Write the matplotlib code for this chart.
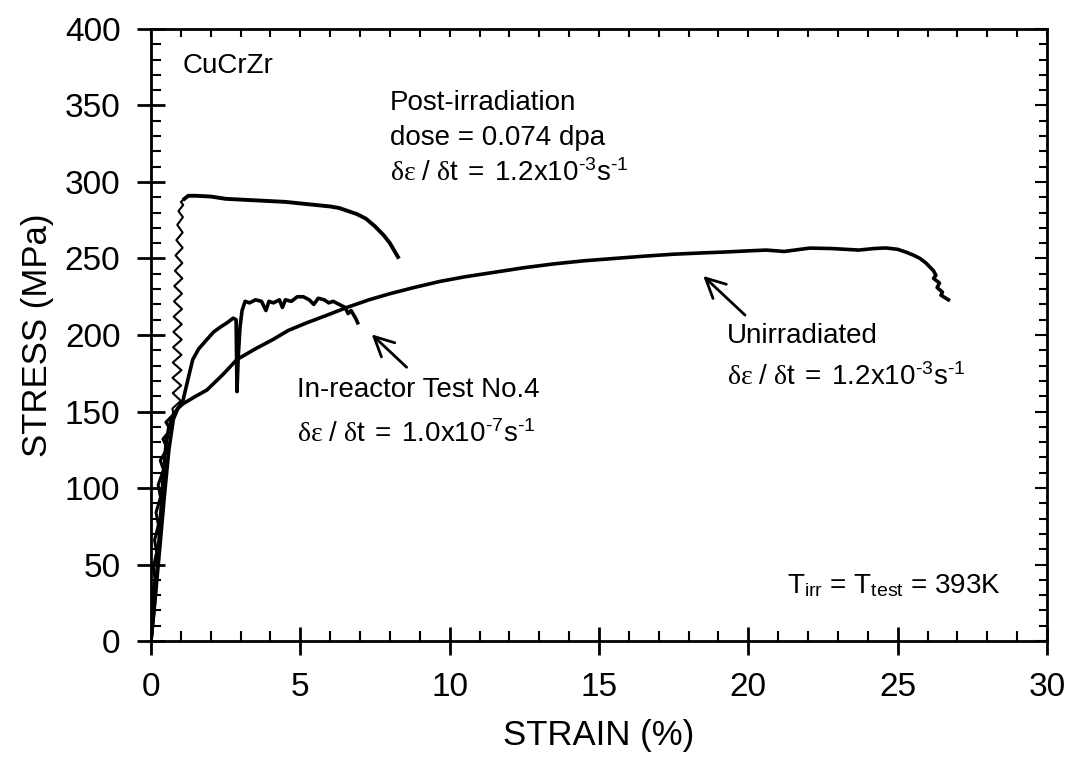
import numpy as np
import matplotlib
matplotlib.use("Agg")
import matplotlib.pyplot as plt
from matplotlib.ticker import MultipleLocator

# strain (%) / stress (MPa)
post_strain = [0.0, 0.05, 0.02, 0.09, 0.04, 0.14, 0.08, 0.19, 0.12, 0.25, 0.17, 0.32, 0.24, 0.42,
               0.31, 0.55, 0.40, 0.66, 0.50, 0.75,
               0.72, 1.00, 0.73, 1.01, 0.72, 1.02, 0.73, 1.02, 0.74, 1.03, 0.75, 1.03, 0.76, 1.04,
               0.77, 1.04, 0.78, 1.05, 0.80, 1.05, 0.82, 1.06, 0.85, 1.06, 0.88, 1.07, 0.92, 1.08,
               1.00, 1.12, 1.25, 1.5, 2.0, 2.5, 3.0, 3.5, 4.0, 4.5, 5.0, 5.5, 6.0, 6.3, 6.6, 6.9,
               7.2, 7.5, 7.8, 8.0, 8.15, 8.27]
post_stress = [0, 8, 14, 22, 30, 40, 48, 58, 66, 76, 84, 94, 102, 112,
               118, 126, 132, 138, 143, 148,
               152, 157, 162, 167, 172, 177, 182, 187, 192, 197, 202, 207, 212, 217,
               222, 227, 232, 237, 242, 247, 252, 257, 262, 267, 272, 277, 281, 285,
               287, 289, 291, 291, 290.5, 289, 288.5, 288, 287.5, 287, 286, 285, 284, 283, 281, 279,
               276, 271, 265, 260, 255, 251]
post_wiggle = (19, 49)  # index range of the thin oscillating part

unirr_strain = [0.0, 0.1, 0.2, 0.3, 0.4, 0.5, 0.6, 0.75, 0.9, 1.07, 1.5, 1.87, 2.4, 2.88, 3.5,
                4.08, 4.6, 5.22, 5.9, 6.56, 7.3, 8.0, 8.8, 9.67, 10.5, 11.5, 12.5, 13.5, 14.5,
                15.5, 16.5, 17.5, 18.4, 19.3, 20.0, 20.6, 21.2, 22.06, 22.8, 23.7, 24.2, 24.6,
                25.0, 25.3, 25.55, 25.75, 25.95, 26.05, 26.2, 26.28, 26.2, 26.4, 26.32, 26.5,
                26.45, 26.7]
unirr_stress = [0, 20, 45, 75, 105, 128, 140, 148, 152, 155, 160, 164, 174, 184, 191,
                197, 203, 208, 213, 218, 223, 227, 231, 235, 238, 241, 244, 246.5, 248.5,
                250, 251.5, 252.8, 253.6, 254.3, 255, 255.5, 254.6, 256.8, 256.5, 255.5, 256.5, 256.9,
                256, 254, 252, 250, 247, 245, 242, 239, 237, 234, 231, 228,
                226, 223]

inr_strain = [0.0, 0.15, 0.3, 0.45, 0.6, 0.75, 0.9, 1.07, 1.25, 1.4, 1.6, 1.87, 2.1, 2.31, 2.55,
              2.75, 2.85, 2.88, 2.92, 2.98, 3.05, 3.15, 3.3, 3.5, 3.7, 3.85, 3.95, 4.1, 4.3, 4.4,
              4.5, 4.7, 4.9, 5.1, 5.3, 5.45, 5.6, 5.8, 5.95, 6.1, 6.3, 6.5, 6.6, 6.7, 6.85, 6.92]
inr_stress = [0, 30, 62, 95, 125, 145, 152, 157, 172, 184, 191, 197, 202, 205, 208,
              211, 210, 163, 185, 205, 216, 222, 221, 223, 222, 216, 222, 221, 223, 218,
              223, 222, 225, 225, 223, 220, 224, 223, 221, 222, 220, 218, 214, 216, 211, 208]

plt.rcParams['font.family'] = ['Liberation Sans', 'DejaVu Sans']
plt.rcParams['mathtext.fontset'] = 'custom'
plt.rcParams['mathtext.rm'] = 'Liberation Sans'
plt.rcParams['mathtext.it'] = 'Liberation Serif'
plt.rcParams['mathtext.bf'] = 'Liberation Sans:bold'

fig = plt.figure(figsize=(10.7, 7.71), dpi=100)
ax = fig.add_axes([0.1411, 0.1686, 0.8374, 0.7938])

a, b = post_wiggle
ax.plot(post_strain[:a + 1], post_stress[:a + 1], color='black', lw=2.2)
ax.plot(post_strain[a:b + 1], post_stress[a:b + 1], color='black', lw=1.5)
ax.plot(post_strain[b:], post_stress[b:], color='black', lw=2.8)
ax.plot(unirr_strain, unirr_stress, color='black', lw=2.6)
ax.plot(inr_strain, inr_stress, color='black', lw=2.6)

ax.set_xlim(0, 30)
ax.set_ylim(0, 400)
ax.xaxis.set_major_locator(MultipleLocator(5))
ax.xaxis.set_minor_locator(MultipleLocator(1))
ax.yaxis.set_major_locator(MultipleLocator(50))
ax.yaxis.set_minor_locator(MultipleLocator(10))
ax.tick_params(which='major', direction='inout', length=20, width=2, labelsize=24, pad=12)
ax.tick_params(which='minor', direction='in', length=7, width=1.5)
for s in ax.spines.values():
    s.set_linewidth(2)

# top / right: inward ticks only, no labels
secx = ax.secondary_xaxis('top')
secx.xaxis.set_major_locator(MultipleLocator(5))
secx.xaxis.set_minor_locator(MultipleLocator(1))
secx.tick_params(which='both', direction='in', length=6, width=1.5, labeltop=False)
secy = ax.secondary_yaxis('right')
secy.yaxis.set_major_locator(MultipleLocator(50))
secy.yaxis.set_minor_locator(MultipleLocator(10))
secy.tick_params(which='major', direction='in', length=9, width=1.5, labelright=False)
secy.tick_params(which='minor', direction='in', length=6, width=1.5, labelright=False)

ax.set_xlabel('STRAIN (%)', fontsize=25, labelpad=12)
ax.set_ylabel('STRESS (MPa)', fontsize=25, labelpad=8)

fs = 20
rate3 = r'$\delta\varepsilon\mathrm{\ /\ }\delta\mathrm{t\;=\;1.2x10^{\text{-}3}s^{\text{-}1}}$'
rate7 = r'$\delta\varepsilon\mathrm{\ /\ }\delta\mathrm{t\;=\;1.0x10^{\text{-}7}s^{\text{-}1}}$'

ax.text(1.07, 376, 'CuCrZr', fontsize=fs, va='center')
ax.text(8.0, 347, 'Post-irradiation', fontsize=fs, va='baseline')
ax.text(8.0, 324, 'dose = 0.074 dpa', fontsize=fs, va='baseline')
ax.text(8.0, 300.6, rate3, fontsize=fs, va='baseline')
ax.text(4.89, 159.5, 'In-reactor Test No.4', fontsize=fs, va='baseline')
ax.text(4.89, 130, rate7, fontsize=fs, va='baseline')
ax.text(19.28, 194.8, 'Unirradiated', fontsize=fs, va='baseline')
ax.text(19.28, 167.3, rate3, fontsize=fs, va='baseline')
ax.text(21.3, 31.4, r'T$_\mathrm{irr}$ = T$_\mathrm{test}$ = 393K', fontsize=fs, va='baseline')

arrow = dict(arrowstyle='->, head_length=0.7, head_width=0.35', lw=2, color='black',
             mutation_scale=20, shrinkA=0, shrinkB=0)
ax.annotate('', xy=(7.39, 200.4), xytext=(8.56, 178.9), arrowprops=arrow)
ax.annotate('', xy=(18.49, 238.6), xytext=(19.89, 213), arrowprops=arrow)

fig.savefig('out.png', dpi=100)
